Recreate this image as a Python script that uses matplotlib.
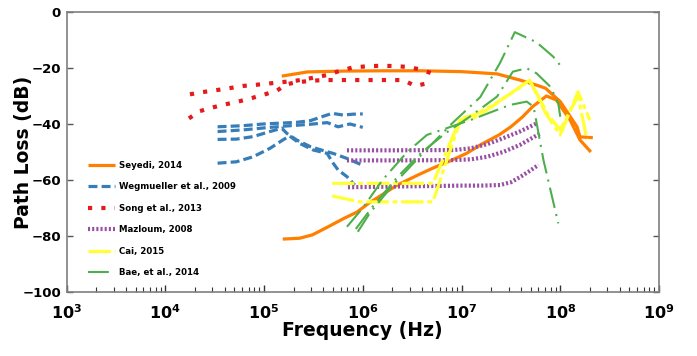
import numpy as np
import matplotlib
matplotlib.use('Agg')
import matplotlib.pyplot as plt
from matplotlib.ticker import FuncFormatter, FixedLocator, NullFormatter, MultipleLocator

# --- data (frequency as log10(Hz), path loss in dB) ---
seyedi_a_logf = [5.18, 5.44, 5.8, 6.2, 6.6, 7.0, 7.36, 7.59, 7.75, 7.85, 8.0, 8.17, 8.2, 8.33]
seyedi_a_db = [-22.9, -21.4, -21.1, -21.0, -21.0, -21.3, -22.1, -24.3, -26.0, -27.2, -32.0, -41.0, -44.6, -44.9]
seyedi_b_logf = [5.19, 5.36, 5.49, 5.65, 5.81, 5.94, 6.06, 6.19, 6.35, 6.56, 6.72, 6.89, 7.05, 7.21,
                 7.38, 7.5, 7.62, 7.72, 7.86, 7.96, 8.1, 8.2, 8.31]
seyedi_b_db = [-81.1, -80.8, -79.6, -76.7, -73.7, -71.5, -68.3, -65.4, -61.8, -58.2, -55.6, -53.1, -50.5, -47.1,
               -43.9, -41.0, -37.4, -33.8, -30.0, -31.4, -38.6, -45.7, -50.0]

wegm_1_logf = [4.53, 4.79, 4.99, 5.16, 5.33, 5.47, 5.57, 5.69, 5.80, 5.9, 6.0]
wegm_1_db = [-41.0, -40.6, -40.0, -39.7, -39.4, -38.8, -37.6, -36.2, -36.8, -36.5, -36.4]
wegm_2_logf = [4.53, 4.79, 5.03, 5.23, 5.47, 5.64, 5.75, 5.87, 6.0]
wegm_2_db = [-42.7, -42.1, -41.3, -40.7, -40.1, -39.5, -41.0, -40.0, -41.2]
wegm_3_logf = [4.53, 4.72, 4.89, 5.06, 5.18, 5.23, 5.33, 5.47, 5.6, 5.7, 5.84, 5.99]
wegm_3_db = [-45.5, -45.4, -44.5, -42.7, -41.5, -43.3, -45.7, -48.1, -49.5, -50.5, -52.3, -54.6]
wegm_4_logf = [4.53, 4.72, 4.89, 5.06, 5.2, 5.26, 5.36, 5.5, 5.64, 5.69, 5.75, 5.84, 5.92]
wegm_4_db = [-54.0, -53.5, -51.7, -48.7, -45.5, -44.3, -46.9, -49.3, -50.5, -53.5, -56.4, -58.8, -61.8]

song_1_logf = [4.25, 4.38, 4.52, 4.65, 4.79, 4.92, 5.06, 5.2, 5.33, 5.48, 5.64, 5.77, 5.9, 6.04,
               6.18, 6.31, 6.45, 6.58, 6.7]
song_1_db = [-29.4, -28.6, -27.9, -27.2, -26.4, -26.0, -25.5, -25.0, -24.5, -23.6, -22.5, -21.0, -19.8, -19.4,
             -19.2, -19.3, -19.6, -20.5, -21.9]
song_2_logf = [4.24, 4.35, 4.49, 4.62, 4.76, 4.89, 5.01, 5.13, 5.23, 5.33, 5.47, 5.6, 5.74, 5.87,
               6.0, 6.14, 6.28, 6.41, 6.53, 6.65]
song_2_db = [-38.0, -35.4, -34.0, -32.9, -31.8, -30.6, -29.4, -28.1, -25.8, -25.1, -24.6, -24.3, -24.3, -24.3,
             -24.3, -24.3, -24.3, -24.3, -26.4, -25.5]

maz_1_logf = [5.84, 6.3, 6.92, 7.09, 7.26, 7.42, 7.59, 7.76]
maz_1_db = [-49.4, -49.4, -49.3, -48.7, -47.2, -45.1, -42.7, -39.8]
maz_2_logf = [5.84, 6.3, 6.92, 7.1, 7.26, 7.42, 7.59, 7.8]
maz_2_db = [-53.0, -53.0, -52.9, -52.6, -51.7, -50.0, -47.5, -43.3]
maz_3_logf = [5.85, 6.4, 7.0, 7.2, 7.39, 7.5, 7.59, 7.68, 7.78]
maz_3_db = [-62.6, -62.3, -62.0, -62.0, -61.8, -60.8, -59.0, -57.0, -54.6]

cai_1_logf = [5.69, 6.71, 6.99, 7.15, 7.35, 7.55, 7.69, 7.85, 8.0, 8.18, 8.3]
cai_1_db = [-61.2, -61.2, -38.0, -36.5, -32.5, -28.0, -24.3, -36.0, -43.9, -28.5, -38.6]
cai_2_logf = [5.69, 5.97, 6.71, 6.99, 7.12, 7.32, 7.52, 7.69, 7.88, 8.0, 8.18, 8.27]
cai_2_db = [-65.7, -67.8, -67.8, -38.5, -38.0, -33.5, -28.5, -24.3, -37.0, -42.0, -30.0, -45.5]

bae_1_logf = [5.95, 6.07, 6.3, 6.61, 6.91, 7.19, 7.39, 7.54, 7.76, 7.93, 8.01]
bae_1_db = [-78.5, -71.9, -62.0, -50.4, -39.6, -30.4, -18.2, -7.2, -10.8, -16.0, -19.5]
bae_2_logf = [5.93, 6.1, 6.35, 6.6, 6.85, 7.1, 7.36, 7.52, 7.66, 7.76, 7.9, 7.98, 8.0]
bae_2_db = [-77.5, -69.5, -59.0, -50.0, -43.0, -37.0, -30.2, -21.3, -20.1, -21.9, -26.7, -32.6, -37.4]
bae_3_logf = [5.84, 6.0, 6.2, 6.45, 6.65, 6.75, 7.09, 7.49, 7.66, 7.73, 7.83, 7.98]
bae_3_db = [-76.7, -70.0, -60.0, -50.0, -43.9, -42.7, -38.6, -33.2, -32.0, -33.8, -52.9, -75.5]

labels = ['Seyedi, 2014', 'Wegmueller et al., 2009', 'Song et al., 2013',
          'Mazloum, 2008', 'Cai, 2015', 'Bae, et al., 2014']
decades = [3, 4, 5, 6, 7, 8, 9]

plt.rcParams['font.family'] = 'DejaVu Sans'
plt.rcParams['font.weight'] = 'bold'

fig = plt.figure(figsize=(6.97, 3.56), dpi=100)
ax = fig.add_axes([66.5 / 697, 1 - 292 / 356, (659 - 66.5) / 697, (292 - 12) / 356])


def hz(logf):
    return 10 ** np.asarray(logf)


groups = [
    # (curves, style)
    ([(seyedi_a_logf, seyedi_a_db), (seyedi_b_logf, seyedi_b_db)],
     dict(color='#ff7f00', lw=2.3, ls='-')),
    ([(wegm_1_logf, wegm_1_db), (wegm_2_logf, wegm_2_db), (wegm_3_logf, wegm_3_db), (wegm_4_logf, wegm_4_db)],
     dict(color='#377eb8', lw=2.3, ls=(0, (2.8, 1.3)))),
    ([(song_1_logf, song_1_db), (song_2_logf, song_2_db)],
     dict(color='#e41a1c', lw=3.0, ls=(0, (1, 2.2)))),
    ([(maz_1_logf, maz_1_db), (maz_2_logf, maz_2_db), (maz_3_logf, maz_3_db)],
     dict(color='#984ea3', lw=3.0, ls=(0, (0.5, 0.5)))),
    ([(cai_1_logf, cai_1_db), (cai_2_logf, cai_2_db)],
     dict(color='#ffff33', lw=2.3, ls=(0, (7, 1.2, 1.5, 1.2)))),
    ([(bae_1_logf, bae_1_db), (bae_2_logf, bae_2_db), (bae_3_logf, bae_3_db)],
     dict(color='#4daf4a', lw=1.5, ls=(0, (10, 3, 1, 3)))),
]

for (curves, style), lab in zip(groups, labels):
    for i, (lf, db) in enumerate(curves):
        ax.plot(hz(lf), db, label=lab if i == 0 else None, solid_capstyle='butt',
                dash_capstyle='butt', **style)

ax.set_xscale('log')
ax.set_xlim(1e3, 1e9)
ax.set_ylim(-100, 0)

minor = [m * 10.0 ** d for d in decades[:-1] for m in range(2, 10)]
ax.xaxis.set_major_locator(FixedLocator(hz(decades)))
ax.xaxis.set_minor_locator(FixedLocator(minor))
ax.xaxis.set_minor_formatter(NullFormatter())
ax.xaxis.set_major_formatter(FuncFormatter(lambda v, p: r'$\mathbf{10^{%d}}$' % round(np.log10(v))))
ax.yaxis.set_major_locator(MultipleLocator(20))

for s in ax.spines.values():
    s.set_color('#7f7f7f')
    s.set_linewidth(1.2)

ax.tick_params(axis='y', which='both', direction='in', left=True, right=True,
               length=4, width=1, color='#555555', labelsize=9.5, pad=4)
ax.tick_params(axis='x', which='major', direction='in', bottom=True, top=False,
               length=5, width=1, color='#333333', labelsize=11.5, pad=8)
ax.tick_params(axis='x', which='minor', direction='in', bottom=True, top=False,
               length=3.5, width=0.8, color='#333333')

ax.set_xlabel('Frequency (Hz)', fontsize=13.5, fontweight='bold')
ax.set_ylabel('Path Loss (dB)', fontsize=13.5, fontweight='bold')
ax.xaxis.set_label_coords(0.5, -0.105)
ax.yaxis.set_label_coords(-0.057, 0.5)

ax.legend(loc='upper left', bbox_to_anchor=(88 / 697, 1 - 161 / 356), bbox_transform=fig.transFigure,
          frameon=False, prop=dict(size=6.2, weight='bold'), handlelength=3.1, handletextpad=0.5,
          labelspacing=1.45, borderpad=0, borderaxespad=0)

fig.savefig('out.png', dpi=100)
